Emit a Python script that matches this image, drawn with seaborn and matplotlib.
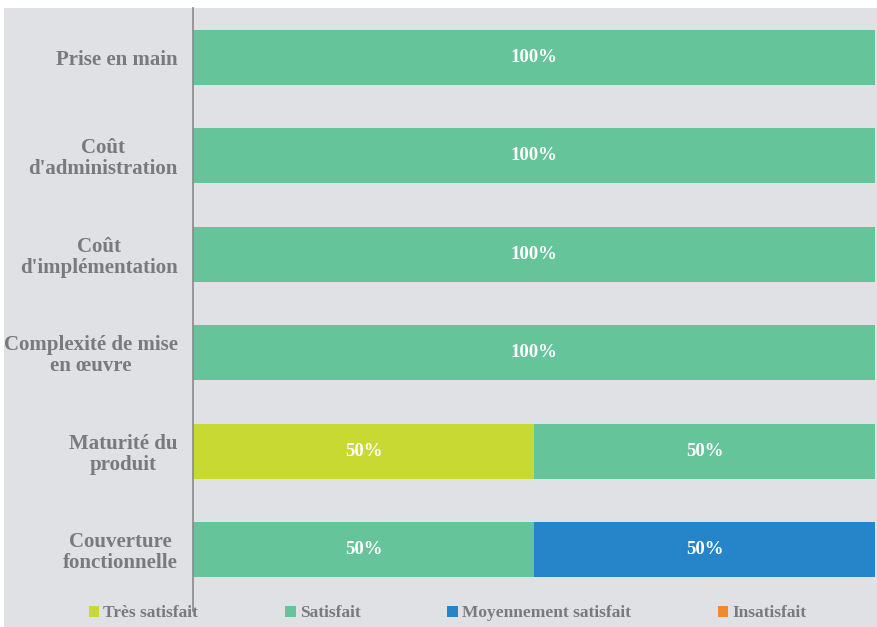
import matplotlib
matplotlib.use("Agg")
import matplotlib.pyplot as plt
from matplotlib.patches import Patch
import seaborn as sns
import pandas as pd
import numpy as np

categories = ["Prise en main", "Coût\nd'administration", "Coût\nd'implémentation",
              "Complexité de mise\nen œuvre", "Maturité du\nproduit", "Couverture\nfonctionnelle"]
series_names = ["Très satisfait", "Satisfait", "Moyennement satisfait", "Insatisfait"]
tres_satisfait = [0, 0, 0, 0, 50, 0]
satisfait = [100, 100, 100, 100, 50, 50]
moyennement = [0, 0, 0, 0, 0, 50]
insatisfait = [0, 0, 0, 0, 0, 0]
colors = ["#c9d934", "#66c49a", "#2585c8", "#f08a2c"]

sns.set_theme(style="white")
plt.rcParams["font.family"] = ["Liberation Serif", "DejaVu Serif"]

bg = "#e0e1e5"
label_color = "#7a7a7c"
fig = plt.figure(figsize=(8.78, 6.27), dpi=100, facecolor="white")
# panel background
fig.patches.append(plt.Rectangle((0.004, 0.0), 0.996, 0.987, transform=fig.transFigure,
                                 facecolor=bg, edgecolor="none", zorder=-10))
ax = fig.add_axes([0.2198, 0.0447, 0.7768, 0.9423])
ax.set_facecolor(bg)

values = [tres_satisfait, satisfait, moyennement, insatisfait]
cum = np.cumsum(np.array(values, dtype=float), axis=0)

# stacked bars: draw cumulative totals from the outermost segment inward
for i in range(len(series_names) - 1, -1, -1):
    df = pd.DataFrame({"cat": categories, "val": cum[i]})
    sns.barplot(data=df, x="val", y="cat", orient="h", color=colors[i],
                saturation=1, width=0.56, ax=ax, linewidth=0)

# value labels centred on each segment
starts = np.vstack([np.zeros(len(categories)), cum[:-1]])
for i, vals in enumerate(values):
    for j, v in enumerate(vals):
        if v > 0:
            ax.text(starts[i][j] + v / 2, j, f"{v:g}%", ha="center", va="center",
                    color="white", fontsize=13.5, fontweight="bold")

ax.set_xlim(0, 100)
ax.set_ylim(5.5, -0.5)
ax.set_xlabel("")
ax.set_ylabel("")
ax.set_xticks([])
for lbl in ax.get_yticklabels():
    lbl.set_fontsize(15)
    lbl.set_fontweight("bold")
    lbl.set_color(label_color)
    lbl.set_horizontalalignment("right")
    lbl.set_multialignment("center")
    lbl.set_linespacing(1.05)
ax.tick_params(axis="y", length=0, pad=11)

for s in ["top", "right", "bottom"]:
    ax.spines[s].set_visible(False)
ax.spines["left"].set_color("#8a8a8a")
ax.spines["left"].set_linewidth(1.2)
ax.spines["left"].set_bounds(5.62, -0.5)

handles = [Patch(facecolor=c, edgecolor="none") for c in colors]
fig.legend(handles, series_names, loc="lower left", bbox_to_anchor=(0.101, 0.009),
           ncol=4, frameon=False, handlelength=0.6, handleheight=0.6, handletextpad=0.25,
           columnspacing=5.0, borderpad=0, borderaxespad=0,
           prop={"family": "Liberation Serif", "size": 12.5, "weight": "bold"},
           labelcolor=label_color)

fig.savefig("out.png", dpi=100, facecolor="white")
